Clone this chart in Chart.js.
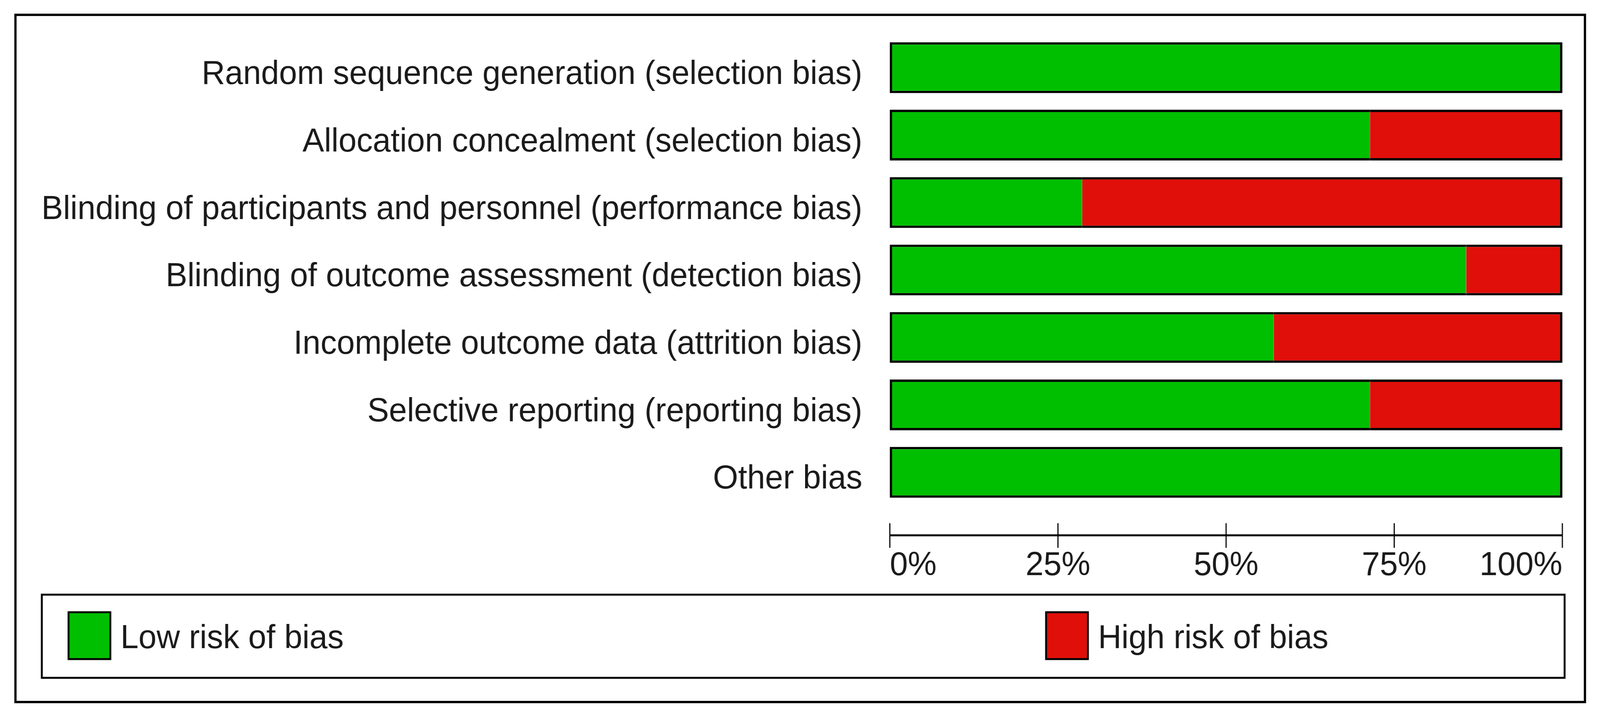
<!DOCTYPE html>
<html>
<head>
<meta charset="utf-8">
<script src="https://cdn.jsdelivr.net/npm/chart.js@4.4.1/dist/chart.umd.min.js"></script>
<style>
  html, body { margin: 0; padding: 0; background: #fff; overflow: hidden; }
  canvas { display: block; }
</style>
</head>
<body>
<canvas id="biasChart" width="4249" height="1844" style="width:100vw;height:100vh"></canvas>
<script>
var domains = [
  'Random sequence generation (selection bias)',
  'Allocation concealment (selection bias)',
  'Blinding of participants and personnel (performance bias)',
  'Blinding of outcome assessment (detection bias)',
  'Incomplete outcome data (attrition bias)',
  'Selective reporting (reporting bias)',
  'Other bias'
];
var lowRisk = [100, 71.4, 28.6, 85.7, 57.1, 71.4, 100];
var highRisk = [0, 28.6, 71.4, 14.3, 42.9, 28.6, 0];
var seriesNames = ['Low risk of bias', 'High risk of bias'];
var seriesColors = ['#00bf00', '#e00f0a'];
var xTicks = [0, 25, 50, 75, 100];
var xTickLabels = ['0%', '25%', '50%', '75%', '100%'];

const FONT = '"Liberation Sans", Arial, sans-serif';
const OUTLINE = 6;

// outline each stacked bar as one box, no line where green meets red
function segBorder(isLow) {
  return ctx => {
    const i = ctx.dataIndex;
    const other = isLow ? highRisk[i] : lowRisk[i];
    if (isLow) return { top: OUTLINE, bottom: OUTLINE, left: OUTLINE, right: other > 0 ? 0 : OUTLINE };
    return { top: OUTLINE, bottom: OUTLINE, right: OUTLINE, left: other > 0 ? 0 : OUTLINE };
  };
}

const framePlugin = {
  id: 'frame',
  afterDraw(chart) {
    const ctx = chart.ctx;
    const x = chart.scales.x;
    ctx.save();
    ctx.strokeStyle = '#000';

    // outer frame
    ctx.lineWidth = 6;
    ctx.strokeRect(41, 38, 4168, 1760);

    // x axis, drawn below the bars with a gap
    const axisY = 1371;
    ctx.lineWidth = 5;
    ctx.beginPath();
    ctx.moveTo(x.getPixelForValue(xTicks[0]), axisY);
    ctx.lineTo(x.getPixelForValue(xTicks[xTicks.length - 1]), axisY);
    ctx.stroke();
    ctx.lineWidth = 3;
    ctx.font = '86px ' + FONT;
    ctx.fillStyle = '#1a1a1a';
    ctx.textBaseline = 'alphabetic';
    xTicks.forEach((v, i) => {
      const px = x.getPixelForValue(v);
      ctx.beginPath();
      ctx.moveTo(px, 1340);
      ctx.lineTo(px, 1403);
      ctx.stroke();
      ctx.textAlign = i === 0 ? 'left' : (i === xTicks.length - 1 ? 'right' : 'center');
      ctx.fillText(xTickLabels[i], px, 1473);
    });

    // legend box
    ctx.lineWidth = 5;
    ctx.strokeRect(111, 1523, 4044, 213);
    const swatchX = [182, 2778];
    chart.data.datasets.forEach((ds, i) => {
      ctx.fillStyle = ds.backgroundColor;
      ctx.fillRect(swatchX[i], 1568, 111, 120);
      ctx.lineWidth = 5;
      ctx.strokeRect(swatchX[i], 1568, 111, 120);
      ctx.fillStyle = '#1a1a1a';
      ctx.textAlign = 'left';
      ctx.fillText(ds.label, swatchX[i] + 138, 1660);
    });
    ctx.restore();
  }
};

new Chart(document.getElementById('biasChart'), {
  type: 'bar',
  data: {
    labels: domains,
    datasets: [
      {
        label: seriesNames[0],
        data: lowRisk,
        backgroundColor: seriesColors[0],
        borderColor: '#000',
        borderWidth: segBorder(true),
        borderSkipped: false
      },
      {
        label: seriesNames[1],
        data: highRisk,
        backgroundColor: seriesColors[1],
        borderColor: '#000',
        borderWidth: segBorder(false),
        borderSkipped: false
      }
    ]
  },
  options: {
    indexAxis: 'y',
    responsive: false,
    animation: false,
    devicePixelRatio: 1,
    layout: { padding: { top: 87, right: 100, bottom: 548, left: 0 } },
    datasets: { bar: { barPercentage: 0.753, categoryPercentage: 1 } },
    plugins: { legend: { display: false }, tooltip: { enabled: false } },
    scales: {
      x: { type: 'linear', min: 0, max: 100, stacked: true, display: false },
      y: {
        stacked: true,
        grid: { display: false, drawTicks: false },
        border: { display: false },
        ticks: { padding: 73, labelOffset: 18, color: '#1a1a1a', font: { family: FONT, size: 86 } },
        afterFit: s => {
          s.width = 2363;
          // keep the label padding from pushing the plot area down
          s.paddingTop = 0;
          s.paddingBottom = 0;
        }
      }
    }
  },
  plugins: [framePlugin]
});
</script>
</body>
</html>
